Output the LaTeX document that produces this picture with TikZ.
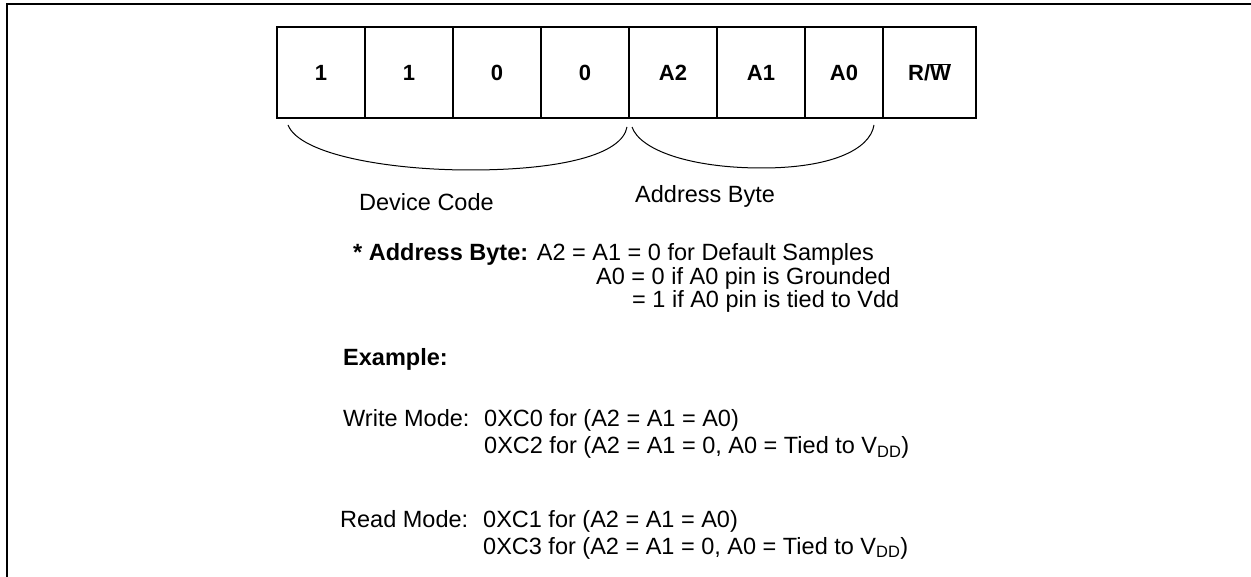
\documentclass[tikz,border=0pt]{standalone}
\usepackage{fontspec}
\setmainfont{Liberation Sans}
\usetikzlibrary{positioning}

\tikzset{bitcell/.style={draw,line width=1.5pt,minimum height=91pt,minimum width=88pt,inner sep=0pt,
		font=\fontsize{22}{26}\selectfont\bfseries},
	txt/.style={anchor=base west,inner sep=0pt}}

\begin{document}
\begin{tikzpicture}[x=1pt,y=-1pt,font=\fontsize{23.5}{28}\selectfont]
					\useasboundingbox (0,0) rectangle (1251,577);
					\draw[line width=2.2pt] (7,577)--(7,4)--(1251,4);
					\node[bitcell] (b7) at (321,72.5) {1};
					\node[bitcell] (b6) at (409,72.5) {1};
					\node[bitcell] (b5) at (497,72.5) {0};
					\node[bitcell] (b4) at (585,72.5) {0};
					\node[bitcell] (b3) at (673,72.5) {A2};
					\node[bitcell] (b2) at (761,72.5) {A1};
					\node[bitcell,minimum width=78pt] (b1) at (844,72.5) {A0};
					\node[bitcell,minimum width=93pt] (b0) at (929.5,72.5) {R/$\overline{\hbox{W}}$};
					\coordinate (devL) at (288,125);
					\coordinate (devB) at (470,170);
					\coordinate (devR) at (627,127);
					\coordinate (adrL) at (632,127);
					\coordinate (adrB) at (762,168);
					\coordinate (adrR) at (874,125);
					\draw[line width=1pt] (devL) .. controls (300,155) and (390,170) .. (devB) .. controls (560,170) and (622,155) .. (devR);
					\draw[line width=1pt] (adrL) .. controls (640,150) and (690,168) .. (adrB) .. controls (830,168) and (870,150) .. (adrR);
					\node[txt] (devcode) at (359,211) {Device Code};
					\node[txt] (addrbyte) at (635,203) {Address Byte};
					\node[txt] (note1) at (353,261) {\textbf{* Address Byte:} A2 = A1 = 0 for Default Samples};
					\node[txt] (note2) at (596,284.5) {A0 = 0 if A0 pin is Grounded};
					\node[txt] (note3) at (632,308) {= 1 if A0 pin is tied to Vdd};
					\node[txt,font=\fontsize{23.5}{28}\selectfont\bfseries] (example) at (343,366) {Example:};
					\node[txt] (wlabel) at (343,426.5) {Write Mode:};
					\node[txt] (w1) at (484,426.5) {0XC0 for (A2 = A1 = A0)};
					\node[txt] (w2) at (484,453.5) {0XC2 for (A2 = A1 = 0, A0 = Tied to V\textsubscript{DD})};
					\node[txt] (rlabel) at (340,527.5) {Read Mode:};
					\node[txt] (r1) at (483,527.5) {0XC1 for (A2 = A1 = A0)};
					\node[txt] (r2) at (483,554) {0XC3 for (A2 = A1 = 0, A0 = Tied to V\textsubscript{DD})};
		\end{tikzpicture}
\end{document}
